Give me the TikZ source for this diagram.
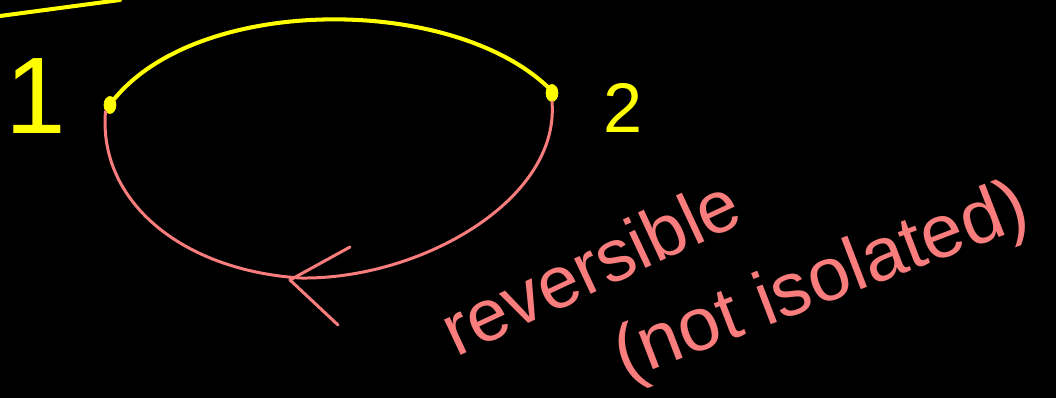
\documentclass[tikz,border=0pt]{standalone}
\usepackage{fontspec}
\setmainfont{Liberation Sans}
\usetikzlibrary{shapes.geometric}
\definecolor{hy}{RGB}{255,255,0}
\definecolor{hp}{RGB}{250,125,125}
\begin{document}
\begin{tikzpicture}[x=0.02cm,y=-0.02cm,
  yl/.style={draw=hy,line width=2.3pt,line cap=round,line join=round},
  pl/.style={draw=hp,line width=1.7pt,line cap=round,line join=round},
  pt/.style={draw=hy,fill=hy,ellipse,inner sep=0pt,minimum width=0.24cm,minimum height=0.34cm},
  lab/.style={text=hy,inner sep=0pt},
  note/.style={text=hp,inner sep=0pt}]
\fill[black] (0,0) rectangle (1056,398);
\useasboundingbox (0,0) rectangle (1056,398);
% top line
\coordinate (t1) at (0,16);
\coordinate (t2) at (120,0);
\draw[yl] (t1) -- (t2);
% points
\node[pt] (p1) at (110,105) {};
\node[pt] (p2) at (552,93) {};
\node[lab,font=\fontsize{62}{70}\selectfont] (n1) at (36,96) {1};
\node[lab,font=\fontsize{40}{46}\selectfont] (n2) at (623,108) {2};
% yellow arc
\draw[yl] (p1.north east) .. controls (200,-5) and (450,-5) .. (p2.north west);
% pink return path
\coordinate (b) at (300,278);
\draw[pl] (p1.south west) .. controls (98,200) and (180,270) .. (b)
          .. controls (420,280) and (560,200) .. (p2.south);
% arrowhead chevron
\coordinate (a1) at (350,247);
\coordinate (a2) at (290,280);
\coordinate (a3) at (338,325);
\draw[pl] (a1) -- (a2) -- (a3);
% notes
\node[note,rotate=25,font=\fontsize{42}{48}\selectfont] (r) at (590,266) {reversible};
\node[note,rotate=21,font=\fontsize{43}{50}\selectfont] (ni) at (822,284) {(not isolated)};
\end{tikzpicture}
\end{document}
